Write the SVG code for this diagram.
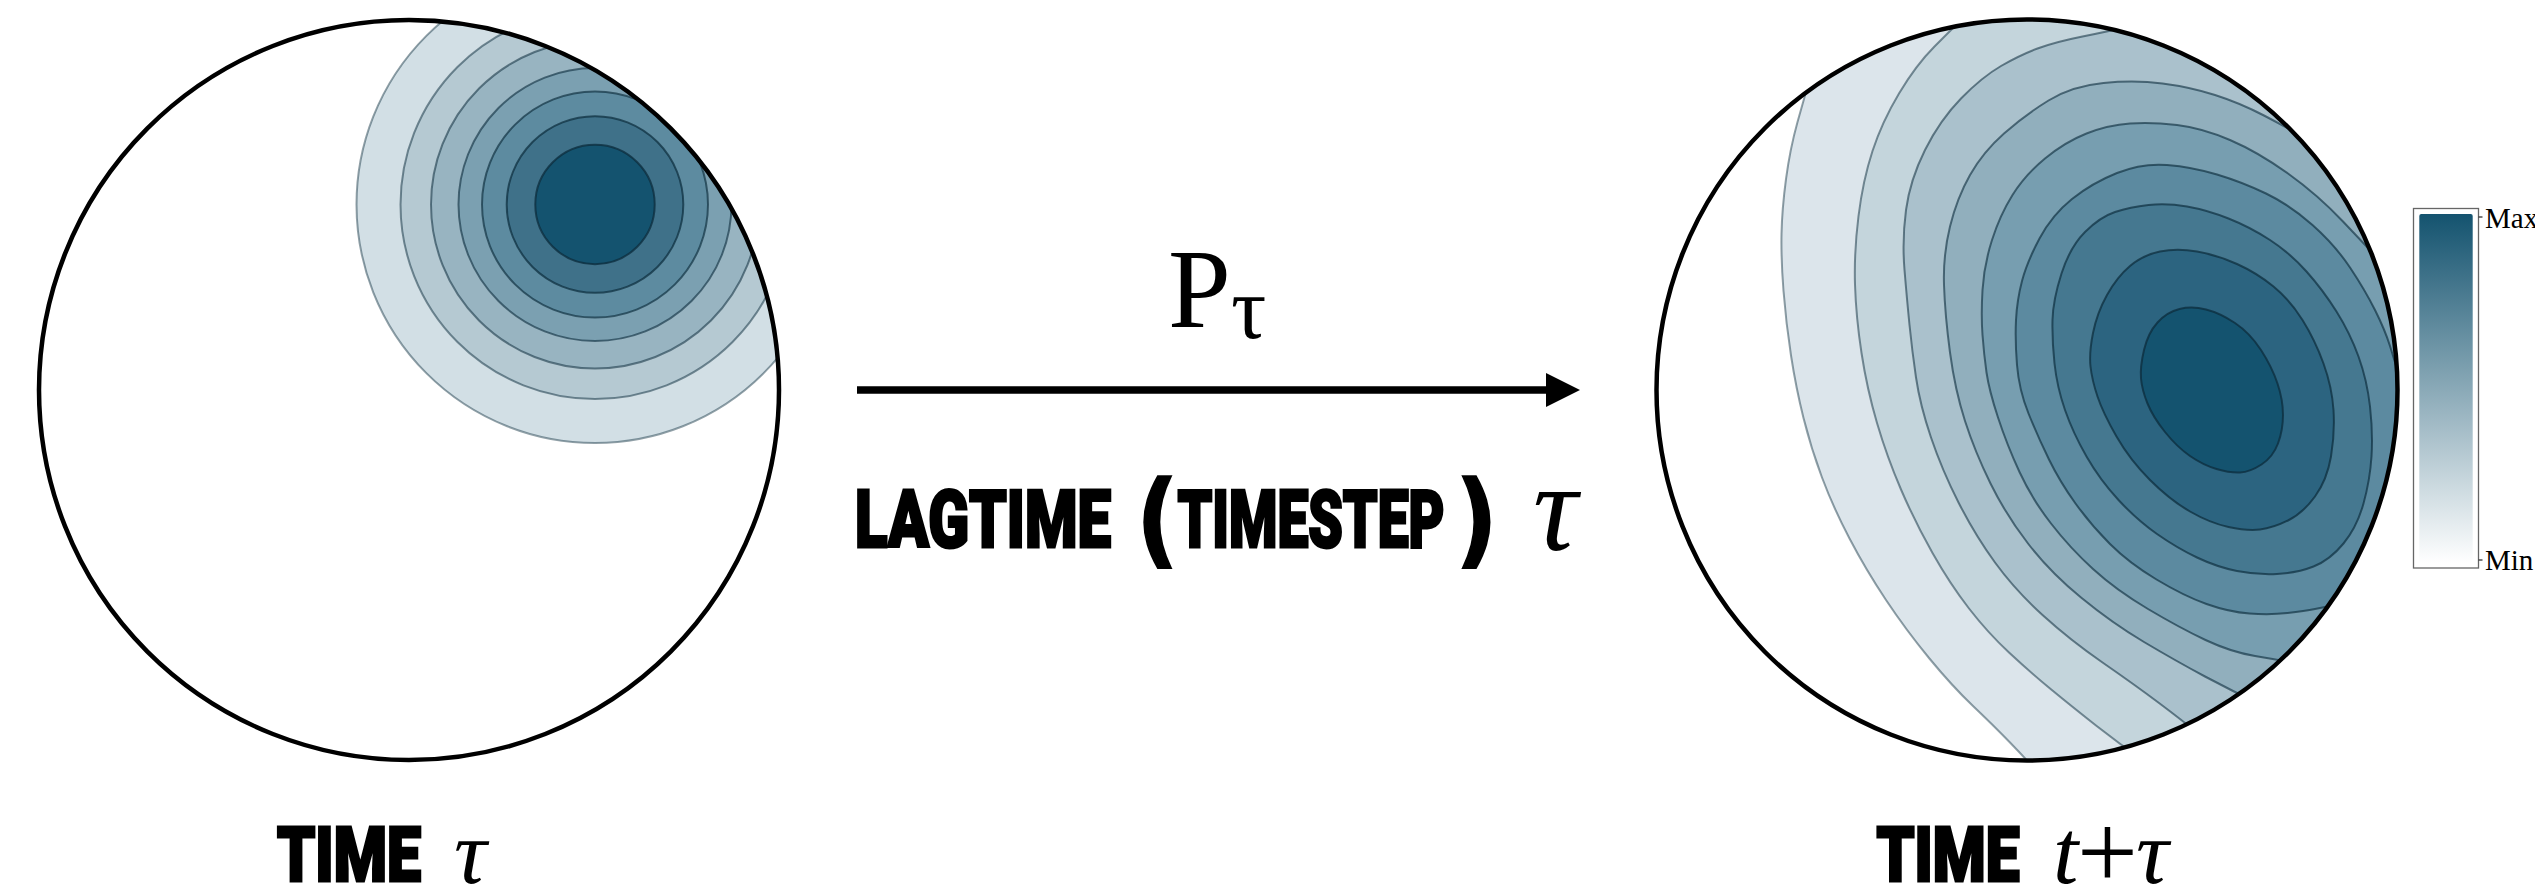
<svg xmlns="http://www.w3.org/2000/svg" width="2535" height="892" viewBox="0 0 2535 892">
<style>
.disk{fill:#fff}
.rim{fill:none;stroke:#000;stroke-width:4.5}
.lv{stroke:#0c2c3c;stroke-width:2}
.heavy{font-family:Roboto,'Open Sans',Inter,'DejaVu Sans',sans-serif;font-weight:900;fill:#000;stroke:#000;stroke-width:3;stroke-linejoin:miter}
.paren{font-family:'DejaVu Sans Condensed','DejaVu Sans',sans-serif;font-stretch:condensed;font-weight:700;fill:#000;stroke:#000;stroke-width:1.5}
.math{font-family:'Liberation Serif','DejaVu Serif',serif;fill:#000}
.it{font-style:italic}
.cb{font-family:'Liberation Serif','DejaVu Serif',serif;font-size:29px;fill:#000}
</style>
<defs>
<clipPath id="clipL"><circle cx="409" cy="390" r="370"/></clipPath>
<clipPath id="clipR"><circle cx="2027" cy="390" r="370.5"/></clipPath>
<linearGradient id="cbGrad" x1="0" y1="0" x2="0" y2="1">
<stop offset="0" stop-color="#14536f"/>
<stop offset="1" stop-color="#ffffff"/>
</linearGradient>
<marker id="arrowhead" markerUnits="userSpaceOnUse" markerWidth="34" markerHeight="34" refX="0" refY="17" orient="auto">
<path d="M0,0 L34,17 L0,34 Z" fill="#000"/>
</marker>
</defs>
<rect width="2535" height="892" fill="#fff"/>

<g id="state-t">
<circle class="disk" cx="409" cy="390" r="370"/>
<g clip-path="url(#clipL)">
<circle class="lv" cx="595" cy="204.5" r="238.5" fill="#d2dfe5" stroke-opacity="0.45"/>
<circle class="lv" cx="595" cy="204.5" r="194.5" fill="#b5c9d2" stroke-opacity="0.5"/>
<circle class="lv" cx="595" cy="204.5" r="164" fill="#98b4c1" stroke-opacity="0.55"/>
<circle class="lv" cx="595" cy="204.5" r="136.5" fill="#7ba0b1" stroke-opacity="0.6"/>
<circle class="lv" cx="595" cy="204.5" r="113" fill="#5d8ba0" stroke-opacity="0.65"/>
<circle class="lv" cx="595" cy="204.5" r="88.3" fill="#3f7189" stroke-opacity="0.7"/>
<circle class="lv" cx="595" cy="204.5" r="59.7" fill="#14536f" stroke-opacity="0.75"/>
</g>
<circle class="rim" cx="409" cy="390" r="370"/>
</g>

<g id="state-t-plus-tau">
<circle class="disk" cx="2027" cy="390" r="370.5"/>
<g clip-path="url(#clipR)">
<path class="lv" fill="#dce5eb" stroke-opacity="0.45" d="M1815,60 Q1805,95 1797.5,122 Q1790,149 1786,179 Q1782,209 1781.5,234 Q1781,259 1783.5,291 Q1786,323 1791,355.5 Q1796,388 1803.5,418 Q1811,448 1822,477.5 Q1833,507 1849.5,538.5 Q1866,570 1886,600 Q1906,630 1929,658 Q1952,686 1973,706 Q1994,726 2009.5,742 Q2025,758 2045,780 L2045,860 L2480,860 L2480,-40 L1815,-40 Z"/>
<path class="lv" fill="#c4d5dc" stroke-opacity="0.5" d="M1975,6 Q1953,28 1934.5,46.5 Q1916,65 1899,93.5 Q1882,122 1872.5,151 Q1863,180 1858.5,216 Q1854,252 1855,284.5 Q1856,317 1861.5,353 Q1867,389 1877,423 Q1887,457 1901,489.5 Q1915,522 1932.5,553 Q1950,584 1969,608.5 Q1988,633 2009,652.5 Q2030,672 2050,688.5 Q2070,705 2096,725.5 Q2122,746 2150,765 L2150,860 L2480,860 L2480,-40 L1975,-40 Z"/>
<path class="lv" fill="#aac1cc" stroke-opacity="0.55" d="M2150,22 Q2110,31 2082.5,36.5 Q2055,42 2037.5,48.5 Q2020,55 2001,66 Q1982,77 1961,98.5 Q1940,120 1925,150 Q1910,180 1906,210 Q1902,240 1904.5,270 Q1907,300 1909.5,325 Q1912,350 1916,377.5 Q1920,405 1931,437.5 Q1942,470 1958.5,502.5 Q1975,535 1995,562.5 Q2015,590 2042.5,615 Q2070,640 2102.5,662.5 Q2135,685 2159,703 Q2183,721 2200,735 L2200,860 L2480,860 L2480,-40 L2150,-40 Z"/>
<path class="lv" fill="#91afbd" stroke-opacity="0.6" d="M2320,146 Q2288,128 2264,115.5 Q2240,103 2215,95 Q2190,87 2162.5,83.5 Q2135,80 2103.5,83 Q2072,86 2048.5,100.5 Q2025,115 2004,133.5 Q1983,152 1970,175 Q1957,198 1950,226.5 Q1943,255 1944,285 Q1945,315 1950,352.5 Q1955,390 1965,421 Q1975,452 1990.5,483.5 Q2006,515 2028,543.5 Q2050,572 2081,597.5 Q2112,623 2144,642 Q2176,661 2205,676.5 Q2234,692 2262,705 L2262,860 L2480,860 L2480,-40 L2320,-40 Z"/>
<path class="lv" fill="#779eb0" stroke-opacity="0.62" d="M2385,266 Q2368,248 2343,221.5 Q2318,195 2288,173.5 Q2258,152 2230,140 Q2202,128 2177,125 Q2152,122 2130,123.5 Q2108,125 2086.5,133.5 Q2065,142 2045,158.5 Q2025,175 2012.5,195 Q2000,215 1992,240 Q1984,265 1982.5,290 Q1981,315 1982.5,335 Q1984,355 1986.5,372.5 Q1989,390 1998,417.5 Q2007,445 2019.5,472 Q2032,499 2051,523.5 Q2070,548 2093,569 Q2116,590 2148,609 Q2180,628 2205.5,640 Q2231,652 2255,656 Q2279,660 2300,664 L2480,664 L2480,266 Z"/>
<path class="lv" fill="#5c8aa0" stroke-opacity="0.65" d="M2404,392 Q2395,362 2390,346 Q2385,330 2375,310 Q2365,290 2350,267.5 Q2335,245 2312.5,225 Q2290,205 2266,193.5 Q2242,182 2217,174.5 Q2192,167 2167,165 Q2142,163 2117,173 Q2092,183 2072,199 Q2052,215 2039.5,238.5 Q2027,262 2022,281 Q2017,300 2016,320 Q2015,340 2017,365 Q2019,390 2028.5,413.5 Q2038,437 2049,459.5 Q2060,482 2075.5,503.5 Q2091,525 2110,544 Q2129,563 2156.5,579.5 Q2184,596 2206.5,604 Q2229,612 2249.5,613.5 Q2270,615 2287.5,613 Q2305,611 2315,609 Q2325,607 2345,603 L2480,603 L2480,392 Z"/>
<path class="lv" fill="#457890" stroke-opacity="0.68" d="M2052.5,320 Q2053,300 2061.5,273.5 Q2070,247 2085,232 Q2100,217 2115,212 Q2130,207 2148.5,205 Q2167,203 2187,206.5 Q2207,210 2228.5,218.5 Q2250,227 2270,240 Q2290,253 2306.5,271.5 Q2323,290 2336.5,311.5 Q2350,333 2358.5,356.5 Q2367,380 2370,406.5 Q2373,433 2371.5,456.5 Q2370,480 2363.5,503.5 Q2357,527 2343.5,543.5 Q2330,560 2313.5,566.5 Q2297,573 2277,574 Q2257,575 2237,571 Q2217,567 2197,557.5 Q2177,548 2157,534 Q2137,520 2118.5,500 Q2100,480 2086.5,456.5 Q2073,433 2065,410 Q2057,387 2054.5,363.5 Q2052,340 2052.5,320 Z"/>
<path class="lv" fill="#2c6480" stroke-opacity="0.72" d="M2093,333 Q2097,313 2107,295 Q2117,277 2130,266 Q2143,255 2160,251.5 Q2177,248 2197,251.5 Q2217,255 2237,264 Q2257,273 2273.5,286.5 Q2290,300 2302.5,320 Q2315,340 2323.5,363.5 Q2332,387 2333.5,410 Q2335,433 2331,456.5 Q2327,480 2315,496.5 Q2303,513 2288,520.5 Q2273,528 2260,529.5 Q2247,531 2228.5,527 Q2210,523 2190,511.5 Q2170,500 2150,480 Q2130,460 2116.5,436.5 Q2103,413 2097.5,396.5 Q2092,380 2090.5,366.5 Q2089,353 2093,333 Z"/>
<path class="lv" fill="#14536f" stroke-opacity="0.75" d="M2144,350 Q2148,333 2157.5,322.5 Q2167,312 2179.5,309 Q2192,306 2206,309.5 Q2220,313 2235,323 Q2250,333 2261,350 Q2272,367 2277.5,383.5 Q2283,400 2283,415 Q2283,430 2278,443.5 Q2273,457 2261.5,464.5 Q2250,472 2240,472.5 Q2230,473 2216.5,469 Q2203,465 2190,456 Q2177,447 2165,432 Q2153,417 2147.5,403.5 Q2142,390 2141,378.5 Q2140,367 2144,350 Z"/>
</g>
<circle class="rim" cx="2027" cy="390" r="370.5"/>
</g>

<g id="colorbar">
<rect x="2413.5" y="208.5" width="65" height="359.5" fill="#fff" stroke="#666" stroke-width="1.3"/>
<rect x="2419.3" y="214" width="53.4" height="349" rx="2" fill="url(#cbGrad)"/>
<line x1="2478.5" y1="217" x2="2482.5" y2="217" stroke="#333" stroke-width="1.3"/>
<line x1="2478.5" y1="560" x2="2482.5" y2="560" stroke="#333" stroke-width="1.3"/>
<text class="cb" x="2485" y="228">Max</text>
<text class="cb" x="2485" y="570">Min</text>
</g>

<g id="connectors">
<line x1="857" y1="390" x2="1546" y2="390" stroke="#000" stroke-width="7.5" marker-end="url(#arrowhead)"/>
</g>

<g id="label-operator">
<text class="math" x="1168" y="327" font-size="113">P</text>
<text class="math" x="1231" y="338" font-size="88">τ</text>
</g>

<g id="label-lagtime">
<text class="heavy" x="855" y="546.5" font-size="80" textLength="256" lengthAdjust="spacingAndGlyphs">LAGTIME</text>
<text class="paren" x="1136" y="555" font-size="104">(</text>
<text class="heavy" x="1177.5" y="546.5" font-size="80" textLength="267" lengthAdjust="spacingAndGlyphs">TIMESTEP</text>
<text class="paren" x="1455" y="555" font-size="104">)</text>
<text class="math it" x="1533" y="550" font-size="124">τ</text>
</g>

<g id="label-time-tau">
<text class="heavy" x="277" y="880.5" font-size="76" textLength="144" lengthAdjust="spacingAndGlyphs">TIME</text>
<text class="math it" x="454" y="883" font-size="91">τ</text>
</g>

<g id="label-time-t-plus-tau">
<text class="heavy" x="1876.5" y="880.5" font-size="76" textLength="143" lengthAdjust="spacingAndGlyphs">TIME</text>
<text class="math it" x="2053" y="883" font-size="91">t</text>
<text class="math" x="2077" y="888" font-size="108">+</text>
<text class="math it" x="2136" y="883" font-size="91">τ</text>
</g>
</svg>
